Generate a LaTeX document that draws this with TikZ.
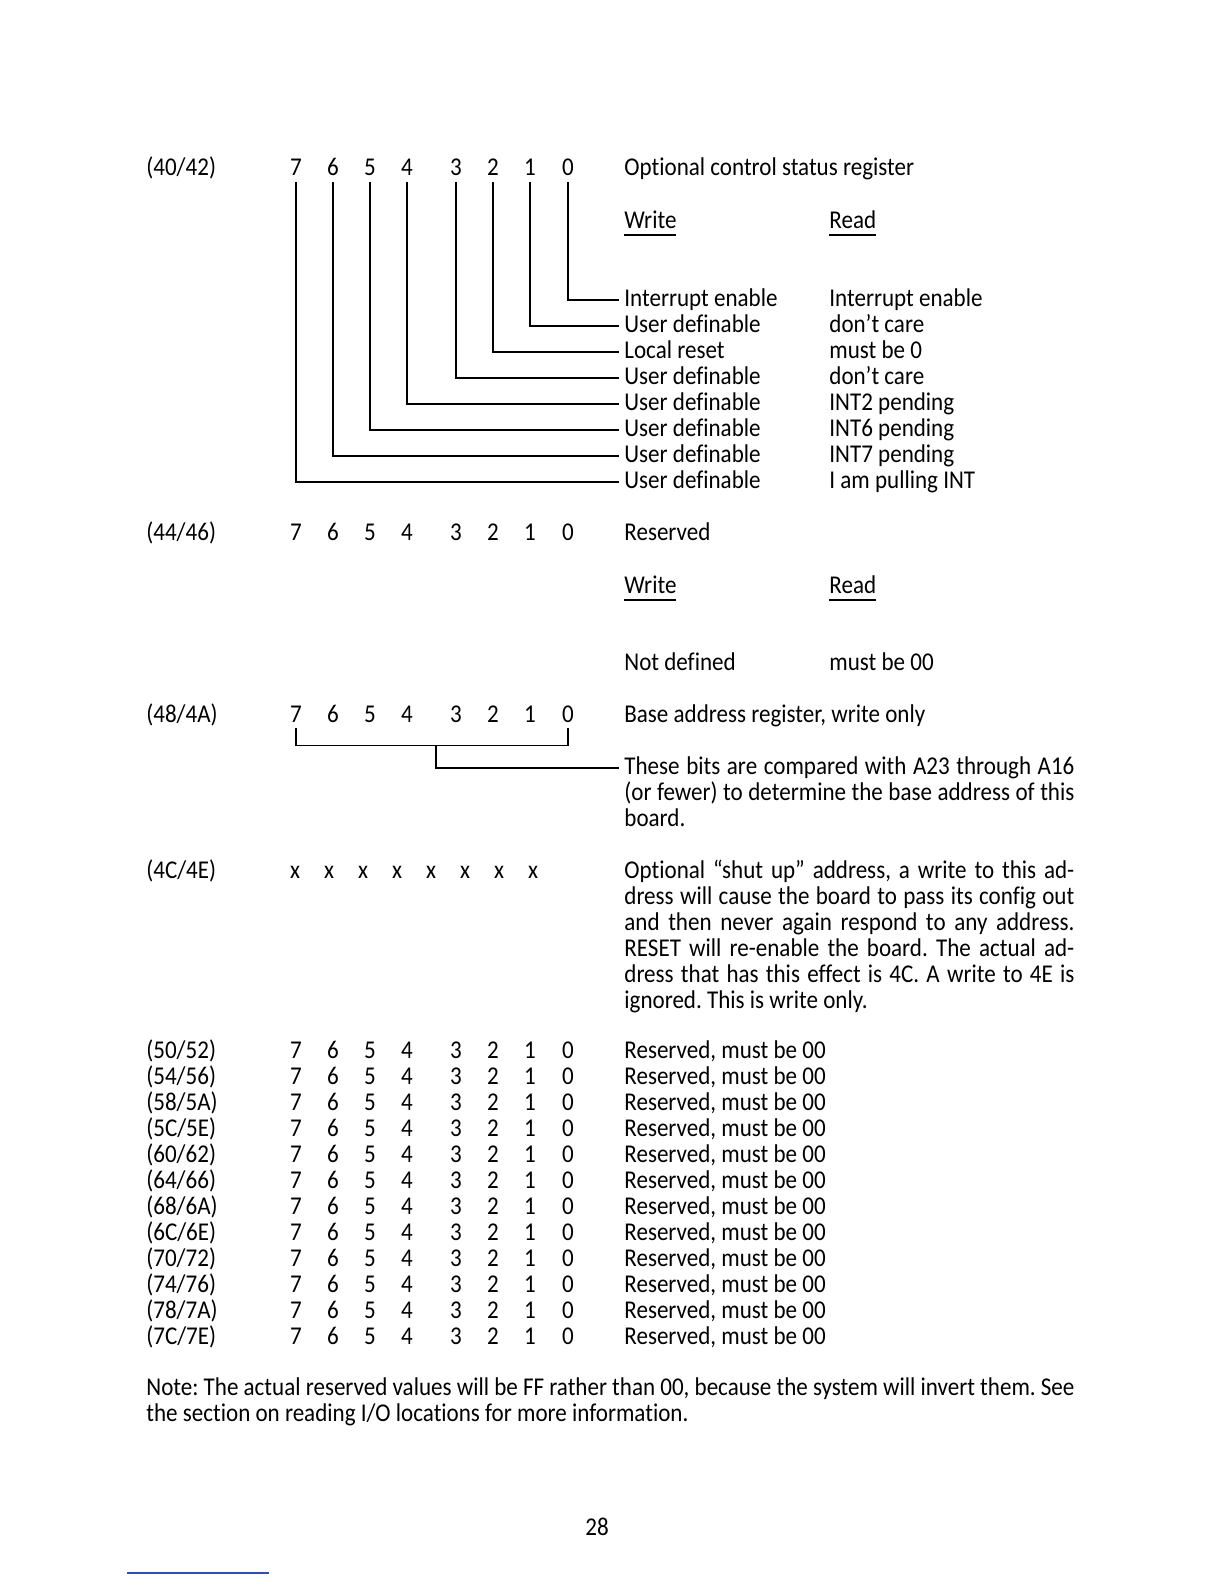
\documentclass[tikz,border=0pt]{standalone}
\usepackage{fontspec}
\setmainfont{Carlito}[Ligatures={NoCommon,TeX}, FakeStretch=0.9]
\usetikzlibrary{calc}
\definecolor{rulingblue}{RGB}{45,75,205}
\newcommand{\ulword}[1]{\setbox0\hbox{#1}\rlap{\rule[-3.8pt]{\wd0}{0.6pt}}\box0}
\frenchspacing

\begin{document}
\begin{tikzpicture}[x=0.5pt, y=-0.5pt, font=\fontsize{12.8}{13}\selectfont,
  every node/.style={inner sep=0pt},
  addr/.style={anchor=base west},
  bitnum/.style={anchor=base, inner sep=3pt, text depth=0pt},
  lbl/.style={anchor=base west, inner sep=2.5pt, text height=8pt, text depth=2pt},
  para/.style={anchor=base west, inner sep=2.5pt, text width=225pt, align=justify},
  wire/.style={line width=0.7pt}]
  \useasboundingbox (0,0) rectangle (1224,1584);

  % control status register
  \node[addr] (a40) at (146,176) {(40/42)};
  \foreach \b/\x in {7/296,6/333,5/370,4/407,3/456,2/493,1/530,0/568}
    \node[bitnum] (csr\b) at (\x,176) {\b};
  \node[lbl] (csrt) at (619,176) {Optional control status register};
  \node[lbl] (csrw) at (619,228) {\ulword{Write}};
  \node[lbl] (csrr) at (824,228) {\ulword{Read}};
  \foreach \wr/\rd [count=\i from 0] in {Interrupt enable/Interrupt enable,
      User definable/don't care, Local reset/must be 0, User definable/don't care,
      User definable/INT2 pending, User definable/INT6 pending,
      User definable/INT7 pending, User definable/I am pulling INT} {
    \node[lbl] (csrw\i) at (619,306+26*\i) {\wr};
    \node[lbl] (csrr\i) at (824,306+26*\i) {\rd};
    \draw[wire] (csr\i.south) |- (csrw\i.west);
  }

  % reserved
  \node[addr] (a44) at (146,540) {(44/46)};
  \foreach \b/\x in {7/296,6/333,5/370,4/407,3/456,2/493,1/530,0/568}
    \node[bitnum] (rsv\b) at (\x,540) {\b};
  \node[lbl] (rsvt) at (619,540) {Reserved};
  \node[lbl] (rsvw) at (619,593) {\ulword{Write}};
  \node[lbl] (rsvr) at (824,593) {\ulword{Read}};
  \node[lbl] (rsvw0) at (619,670) {Not defined};
  \node[lbl] (rsvr0) at (824,670) {must be 00};

  % base address
  \node[addr] (a48) at (146,722) {(48/4A)};
  \foreach \b/\x in {7/296,6/333,5/370,4/407,3/456,2/493,1/530,0/568}
    \node[bitnum] (bas\b) at (\x,722) {\b};
  \node[lbl] (bast) at (619,722) {Base address register, write only};
  \node[para] (basp) at (619,774) {These bits are compared with A23 through A16\linebreak
    (or fewer) to determine the base address of this\linebreak board.};
  \coordinate (basmid) at (436,745);
  \coordinate (basin) at (619,768);
  \draw[wire] (bas7.south) -- ++(0,17) -| (bas0.south);
  \draw[wire] (basmid) |- (basin);

  % shut up
  \node[addr] (a4c) at (146,878) {(4C/4E)};
  \foreach \i in {0,...,7}
    \node[anchor=base] (shx\i) at (295+34*\i,878) {x};
  \node[para] (shp) at (619,878) {Optional “shut up” address, a write to this ad-\linebreak
    dress will cause the board to pass its config out\linebreak
    and then never again respond to any address.\linebreak
    RESET will re-enable the board. The actual ad-\linebreak
    dress that has this effect is 4C. A write to 4E is\linebreak
    ignored. This is write only.};

  % reserved block
  \foreach \hi/\lo [count=\k from 0] in {50/52,54/56,58/5A,5C/5E,60/62,64/66,
      68/6A,6C/6E,70/72,74/76,78/7A,7C/7E} {
    \node[addr] (ra\k) at (146,1058+26*\k) {(\hi/\lo)};
    \foreach \b/\x in {7/296,6/333,5/370,4/407,3/456,2/493,1/530,0/568}
      \node[bitnum] (rb\k-\b) at (\x,1058+26*\k) {\b};
    \node[lbl] (rt\k) at (619,1058+26*\k) {Reserved, must be 00};
  }

  \node[para, inner sep=0pt, text width=464pt] (note) at (146,1395)
    {Note: The actual reserved values will be FF rather than 00, because the system will invert them. See\linebreak
    the section on reading I/O locations for more information.};

  \node[anchor=base] (pg) at (597,1535) {28};
  \draw[rulingblue, line width=0.8pt] (127,1573) -- (269,1573);

\end{tikzpicture}
\end{document}
